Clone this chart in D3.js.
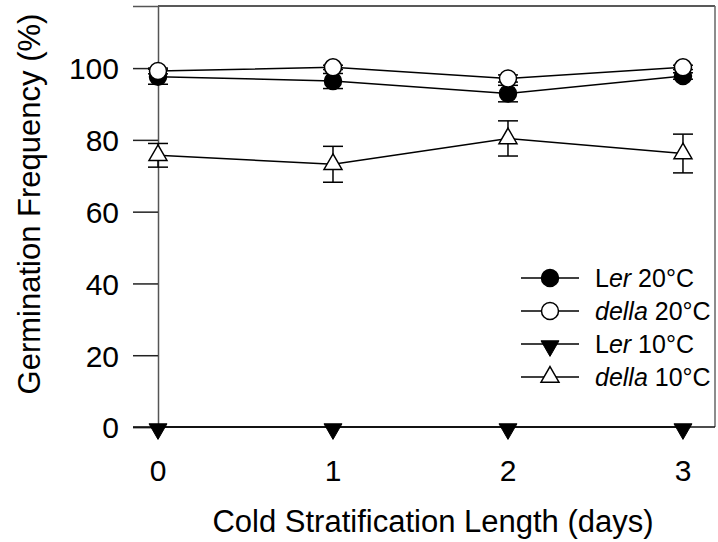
<!DOCTYPE html>
<meta charset="utf-8">
<script src="https://cdn.jsdelivr.net/npm/d3@7"></script>
<style>
body { margin: 0; background: #fff; }
text { font-family: Arial, "Liberation Sans", sans-serif; fill: #000; }
</style>
<body>
<script>

// data
var days = [0, 1, 2, 3]
var ler20 = [97.6, 96.4, 92.9, 97.8]
var ler20_err = [2.1, 2.1, 2.3, 0.9]
var della20 = [99.2, 100.2, 97.1, 100.2]
var della20_err = [0.8, 0.6, 1.0, 0.6]
var ler10 = [0, 0, 0, 0]
var ler10_err = [0, 0, 0, 0]
var della10 = [75.7, 73.2, 80.4, 76.2]
var della10_err = [3.3, 5.0, 4.9, 5.4]
var y_ticks = [0, 20, 40, 60, 80, 100]

var width = 718
var height = 542

var svg = d3.select("body").append("svg")
            .attr("width", width)
            .attr("height", height)

var x = d3.scaleLinear().domain([0, 3.183]).range([158, 715])
var y = d3.scaleLinear().domain([0, 117.3]).range([427, 6])

// frame
svg.append("line").attr("x1", 158).attr("x2", 715).attr("y1", 6).attr("y2", 6)
   .style("stroke", "#222").style("stroke-width", 1.5)
svg.append("line").attr("x1", 715).attr("x2", 715).attr("y1", 6).attr("y2", 427)
   .style("stroke", "#666").style("stroke-width", 1.5)

// y axis
var yAxis = svg.append("g")
    .attr("transform", "translate(158,0)")
    .call(d3.axisLeft(y).tickValues(y_ticks).tickSize(25).tickPadding(14))
yAxis.select(".domain").style("stroke", "#555").style("stroke-width", 1.5)
yAxis.selectAll(".tick line").style("stroke", "#222").style("stroke-width", 1.5)
yAxis.selectAll(".tick text").style("font-size", "30px").attr("dy", "0.36em")

// x axis line (no ticks)
svg.append("line").attr("x1", 133).attr("x2", 715).attr("y1", y(0)).attr("y2", y(0))
   .style("stroke", "#111").style("stroke-width", 1.5)

svg.selectAll(".xlab").data(days).enter().append("text")
   .attr("class", "xlab")
   .attr("x", d => x(d))
   .attr("y", 481)
   .style("text-anchor", "middle")
   .style("font-size", "30px")
   .text(d => d)

svg.append("text")
   .attr("x", 433).attr("y", 532)
   .style("text-anchor", "middle")
   .style("font-size", "31px")
   .text("Cold Stratification Length (days)")

svg.append("text")
   .attr("transform", "translate(40,204) rotate(-90)")
   .style("text-anchor", "middle")
   .style("font-size", "31px")
   .text("Germination Frequency (%)")

var triDown = d3.symbol().type(d3.symbolTriangle).size(140)

function draw_series(vals, errs, marker) {
  var g = svg.append("g")
  var line = d3.line().x((d, i) => x(days[i])).y(d => y(d))
  g.append("path").attr("d", line(vals))
   .style("fill", "none").style("stroke", "#000").style("stroke-width", 1.5)

  days.forEach(function(d, i) {
    if (errs[i] > 0) {
      var cx = x(d)
      var lo = y(vals[i] - errs[i]), hi = y(vals[i] + errs[i])
      g.append("line").attr("x1", cx).attr("x2", cx).attr("y1", lo).attr("y2", hi)
       .style("stroke", "#000").style("stroke-width", 1.5)
      g.append("line").attr("x1", cx - 10).attr("x2", cx + 10).attr("y1", lo).attr("y2", lo)
       .style("stroke", "#000").style("stroke-width", 1.5)
      g.append("line").attr("x1", cx - 10).attr("x2", cx + 10).attr("y1", hi).attr("y2", hi)
       .style("stroke", "#000").style("stroke-width", 1.5)
    }
    marker(g, x(d), y(vals[i]))
  })
}

function filled_circle(g, cx, cy) {
  g.append("circle").attr("cx", cx).attr("cy", cy).attr("r", 8.5)
   .style("fill", "#000").style("stroke", "#000").style("stroke-width", 1.5)
}
function open_circle(g, cx, cy) {
  g.append("circle").attr("cx", cx).attr("cy", cy).attr("r", 8.5)
   .style("fill", "#fff").style("stroke", "#000").style("stroke-width", 1.5)
}
function down_triangle(g, cx, cy) {
  g.append("path").attr("d", triDown())
   .attr("transform", "translate(" + cx + "," + (cy + 2) + ") rotate(180)")
   .style("fill", "#000").style("stroke", "#000").style("stroke-width", 1)
}
function up_triangle(g, cx, cy) {
  g.append("path").attr("d", triDown())
   .attr("transform", "translate(" + cx + "," + cy + ")")
   .style("fill", "#fff").style("stroke", "#000").style("stroke-width", 1.5)
}

draw_series(della10, della10_err, up_triangle)
draw_series(ler20, ler20_err, filled_circle)
draw_series(della20, della20_err, open_circle)
draw_series(ler10, ler10_err, down_triangle)

// legend
var legend = [
  {pre: "L", it: "er", post: " 20°C", marker: filled_circle},
  {pre: "", it: "della", post: " 20°C", marker: open_circle},
  {pre: "L", it: "er", post: " 10°C", marker: down_triangle},
  {pre: "", it: "della", post: " 10°C", marker: up_triangle}
]
var leg_y = [278, 311, 344, 377]

legend.forEach(function(d, i) {
  var g = svg.append("g")
  var ly = leg_y[i]
  g.append("line").attr("x1", 521).attr("x2", 579).attr("y1", ly).attr("y2", ly)
   .style("stroke", "#000").style("stroke-width", 1.5)
  d.marker(g, 550, ly)
  var t = g.append("text").attr("x", 595).attr("y", ly).attr("dy", "0.36em")
           .style("font-size", "25px")
  if (d.pre) t.append("tspan").text(d.pre)
  t.append("tspan").style("font-style", "italic").text(d.it)
  t.append("tspan").text(d.post)
})

</script>
</body>
